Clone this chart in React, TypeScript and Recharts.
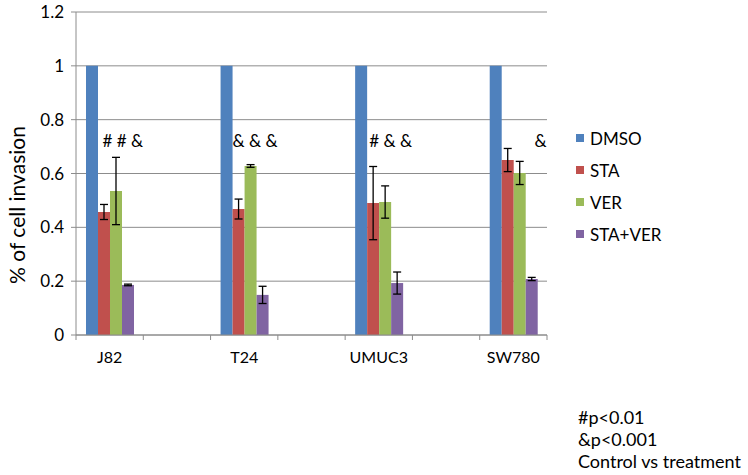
import React from "react"
import {
  BarChart,
  Bar,
  XAxis,
  YAxis,
  CartesianGrid,
  ErrorBar,
  LabelList,
} from "recharts"

// blank categories give the wide gaps between the cell lines
const cellLines = ["J82", "", "T24", "", "UMUC3", "", "SW780"]
const dmso = [1, null, 1, null, 1, null, 1]
const sta = [0.457, null, 0.468, null, 0.49, null, 0.65]
const staErr = [0.028, null, 0.037, null, 0.136, null, 0.043]
const ver = [0.535, null, 0.628, null, 0.494, null, 0.602]
const verErr = [0.125, null, 0.005, null, 0.06, null, 0.043]
const staVer = [0.186, null, 0.149, null, 0.193, null, 0.208]
const staVerErr = [0.003, null, 0.032, null, 0.041, null, 0.006]
const notes = ["# # &", "", "& & &", "", "# & &", "", "&"]
const yTicks = [0, 0.2, 0.4, 0.6, 0.8, 1, 1.2]
const footnotes = ["#p<0.01", "&p<0.001", "Control vs treatment"]

const series = [
  { key: "dmso", name: "DMSO", color: "#4F81BD" },
  { key: "sta", name: "STA", color: "#C0504D" },
  { key: "ver", name: "VER", color: "#9BBB59" },
  { key: "staVer", name: "STA+VER", color: "#8064A2" },
]

const data = cellLines.map((name, i) => ({
  name,
  dmso: dmso[i],
  sta: sta[i],
  staErr: staErr[i],
  ver: ver[i],
  verErr: verErr[i],
  staVer: staVer[i],
  staVerErr: staVerErr[i],
  note: notes[i],
}))

const FONT = "Lato, 'Open Sans', sans-serif"
const GRID = "#8c8c8c"
const PLOT_LEFT = 76
const PLOT_RIGHT = 547
const BAND = (PLOT_RIGHT - PLOT_LEFT) / cellLines.length
const NOTE_LEVEL = 0.7

// category label plus Excel-style tick marks on the category boundaries
function XTick(props: any) {
  const { x, y, payload, index } = props
  const last = index === cellLines.length - 1
  return (
    <g>
      <line x1={x - BAND / 2} x2={x - BAND / 2} y1={y} y2={y + 5} stroke={GRID} />
      {last && <line x1={x + BAND / 2} x2={x + BAND / 2} y1={y} y2={y + 5} stroke={GRID} />}
      <text x={x} y={y + 28} textAnchor="middle" fontSize={16} fill="#000" fontFamily={FONT}>
        {payload.value}
      </text>
    </g>
  )
}

// significance marks, drawn above each group at a fixed level
function Note(props: any) {
  const { x, y, width, height, value } = props
  if (!value) return null
  return (
    <text
      x={x + width * 4.75}
      y={y + height * (1 - NOTE_LEVEL)}
      textAnchor="end"
      fontSize={17}
      fill="#000"
      fontFamily={FONT}
    >
      {value}
    </text>
  )
}

export default function App() {
  return (
    <div style={{ position: "absolute", left: 0, top: 0, width: 748, height: 475, background: "#fff" }}>
      <BarChart
        width={748}
        height={475}
        data={data}
        margin={{ top: 12, right: 201, left: 0, bottom: 0 }}
        barSize={12}
        barGap={0}
      >
        <CartesianGrid vertical={false} stroke={GRID} />
        <XAxis
          dataKey="name"
          height={140}
          axisLine={{ stroke: GRID }}
          tickLine={false}
          tickSize={0}
          tickMargin={0}
          interval={0}
          tick={<XTick />}
        />
        <YAxis
          width={76}
          domain={[0, 1.2]}
          ticks={yTicks}
          axisLine={{ stroke: GRID }}
          tickLine={{ stroke: GRID }}
          tickSize={5}
          tickMargin={7}
          tick={{ fontSize: 17, fill: "#000", fontFamily: FONT }}
          label={() => (
            <text
              transform="translate(25,205) rotate(-90)"
              textAnchor="middle"
              fontSize={21}
              fill="#000"
              fontFamily={FONT}
            >
              % of cell invasion
            </text>
          )}
        />
        <Bar dataKey="dmso" fill={series[0].color} isAnimationActive={false}>
          <LabelList dataKey="note" content={<Note />} />
        </Bar>
        <Bar dataKey="sta" fill={series[1].color} isAnimationActive={false}>
          <ErrorBar dataKey="staErr" width={4} stroke="#000" strokeWidth={1.3} direction="y" />
        </Bar>
        <Bar dataKey="ver" fill={series[2].color} isAnimationActive={false}>
          <ErrorBar dataKey="verErr" width={4} stroke="#000" strokeWidth={1.3} direction="y" />
        </Bar>
        <Bar dataKey="staVer" fill={series[3].color} isAnimationActive={false}>
          <ErrorBar dataKey="staVerErr" width={4} stroke="#000" strokeWidth={1.3} direction="y" />
        </Bar>
      </BarChart>

      <div style={{ position: "absolute", left: 576, top: 128, fontFamily: FONT, fontSize: 17 }}>
        {series.map(s => (
          <div key={s.key} style={{ display: "flex", alignItems: "center", height: 20, marginBottom: 12 }}>
            <span style={{ width: 8, height: 8, background: s.color, marginRight: 6 }} />
            <span>{s.name}</span>
          </div>
        ))}
      </div>

      <div style={{ position: "absolute", left: 578, top: 406, fontFamily: FONT, fontSize: 18, lineHeight: "22px" }}>
        {footnotes.map(f => (
          <div key={f}>{f}</div>
        ))}
      </div>
    </div>
  )
}
